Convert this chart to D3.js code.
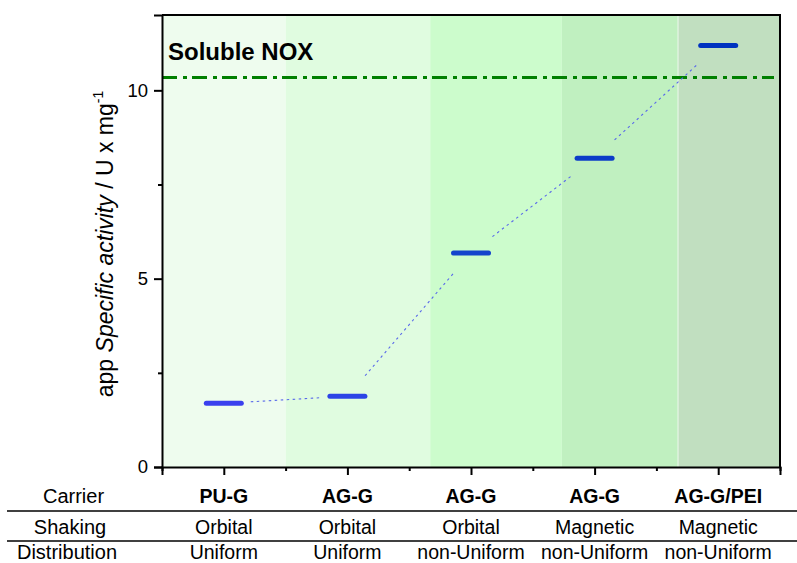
<!DOCTYPE html>
<html>
<head>
<meta charset="utf-8">
<script src="https://cdn.jsdelivr.net/npm/d3@7"></script>
<style>
  body { margin: 0; background: #fff; }
  svg text { font-family: Arial, "Liberation Sans", sans-serif; }
</style>
</head>
<body>
<div id="chart"></div>
<script>
// data
var carriers = ["PU-G", "AG-G", "AG-G", "AG-G", "AG-G/PEI"];
var shaking = ["Orbital", "Orbital", "Orbital", "Magnetic", "Magnetic"];
var distribution = ["Uniform", "Uniform", "non-Uniform", "non-Uniform", "non-Uniform"];
var rowNames = ["Carrier", "Shaking", "Distribution"];
var xPos = [1, 3, 5, 7, 9];
var activity = [1.69, 1.88, 5.68, 8.2, 11.19];
var solubleNOX = 10.34;
var bandEdges = [0, 2, 4.34, 6.47, 8.35, 10];
var yTicks = [0, 5, 10];
var yMinor = [2.5, 7.5];
var xMinor = [0, 2, 4, 6, 8, 10];

var bandColors = ["#eefcee", "#e0fce0", "#ccfccc", "#c0f0c0", "#c1dfc0"];
var barColors = ["#3a40ee", "#2c44e6", "#1444cc", "#0c3cc8", "#0032c0"];

var W = 797, H = 563;
var margin = {top: 15, right: 17, bottom: 96, left: 162},
    width = W - margin.left - margin.right,
    height = H - margin.top - margin.bottom;

var svg = d3.select("#chart").append("svg")
    .attr("width", W)
    .attr("height", H);

var g = svg.append("g")
    .attr("transform", "translate(" + margin.left + "," + margin.top + ")");

var x = d3.scaleLinear().domain([0, 10]).range([0, width]);
var y = d3.scaleLinear().domain([0, 12]).range([height, 0]);

// background bands
g.selectAll("rect.band")
  .data(d3.range(bandColors.length))
  .enter().append("rect")
    .attr("class", "band")
    .attr("x", function(i){ return x(bandEdges[i]); })
    .attr("width", function(i){ return x(bandEdges[i+1]) - x(bandEdges[i]); })
    .attr("y", 0)
    .attr("height", height)
    .attr("fill", function(i){ return bandColors[i]; });

// thin light separator between the last two bands
g.append("line")
    .attr("x1", x(bandEdges[4])).attr("x2", x(bandEdges[4]))
    .attr("y1", 0).attr("y2", height)
    .attr("stroke", "#eef8ee").attr("stroke-width", 1);

// soluble NOX reference
g.append("line")
    .attr("x1", 0).attr("x2", width - 6)
    .attr("y1", y(solubleNOX)).attr("y2", y(solubleNOX))
    .attr("stroke", "#008000")
    .attr("stroke-width", 3)
    .attr("stroke-dasharray", "15,6,4,5");

g.append("text")
    .attr("x", 6).attr("y", 45)
    .attr("font-size", 24).attr("font-weight", "bold")
    .text("Soluble NOX");

// connectors between points, cut back round each symbol
var pts = xPos.map(function(v, i){ return [x(v), y(activity[i])]; });
var gap = 27;
for (var i = 0; i < pts.length - 1; i++) {
  var a = pts[i], b = pts[i+1];
  var dx = b[0] - a[0], dy = b[1] - a[1], len = Math.sqrt(dx*dx + dy*dy);
  var ux = dx/len, uy = dy/len;
  g.append("line")
      .attr("x1", a[0] + ux*gap).attr("y1", a[1] + uy*gap)
      .attr("x2", b[0] - ux*gap).attr("y2", b[1] - uy*gap)
      .attr("stroke", "#5868ea")
      .attr("stroke-width", 1.1)
      .attr("stroke-dasharray", "2.5,3.5");
}

// horizontal bar symbols
g.selectAll("line.bar")
  .data(xPos)
  .enter().append("line")
    .attr("class", "bar")
    .attr("x1", function(d){ return x(d) - 17.5; })
    .attr("x2", function(d){ return x(d) + 17.5; })
    .attr("y1", function(d, i){ return y(activity[i]); })
    .attr("y2", function(d, i){ return y(activity[i]); })
    .attr("stroke", function(d, i){ return barColors[i]; })
    .attr("stroke-width", 5)
    .attr("stroke-linecap", "round");

// frame top + right
g.append("path")
    .attr("d", "M0,0H" + width + "V" + height)
    .attr("fill", "none").attr("stroke", "#000").attr("stroke-width", 2);

// axes
var yAxis = g.append("g")
    .call(d3.axisLeft(y).tickValues(yTicks).tickSize(8).tickPadding(6).tickFormat(d3.format("d")));
g.append("g")
    .call(d3.axisLeft(y).tickValues(yMinor).tickSize(4).tickFormat(""))
    .select(".domain").remove();

var xAxis = g.append("g")
    .attr("transform", "translate(0," + height + ")")
    .call(d3.axisBottom(x).tickValues(xPos).tickSize(8).tickFormat(""));
g.append("g")
    .attr("transform", "translate(0," + height + ")")
    .call(d3.axisBottom(x).tickValues(xMinor).tickSize(4).tickFormat(""))
    .select(".domain").remove();

g.selectAll(".domain").attr("stroke-width", 2);
g.selectAll(".tick line").attr("stroke-width", 2);
yAxis.selectAll("text").attr("font-size", 18.5).attr("font-family", "Arial, 'Liberation Sans', sans-serif");

// y label
var yl = svg.append("text")
    .attr("transform", "translate(113,244) rotate(-90)")
    .attr("text-anchor", "middle")
    .attr("font-size", 23);
yl.append("tspan").text("app ");
yl.append("tspan").attr("font-style", "italic").text("Specific activity");
yl.append("tspan").text(" / U x mg");
yl.append("tspan").attr("font-size", 14).attr("dy", -10).text("-1");

// table under the axis
var rows = [carriers, shaking, distribution];
var rowY = [503, 534, 559];
var rowNameX = [73.5, 70, 67];
rows.forEach(function(r, ri){
  svg.append("text")
      .attr("x", rowNameX[ri]).attr("y", rowY[ri])
      .attr("text-anchor", "middle")
      .attr("font-size", 20)
      .text(rowNames[ri]);
  svg.selectAll(null)
    .data(r)
    .enter().append("text")
      .attr("x", function(d, i){ return margin.left + x(xPos[i]); })
      .attr("y", rowY[ri])
      .attr("text-anchor", "middle")
      .attr("font-size", 19.5)
      .attr("font-weight", ri === 0 ? "bold" : "normal")
      .text(function(d){ return d; });
});

[511, 541].forEach(function(ly){
  svg.append("line")
      .attr("x1", 7).attr("x2", W)
      .attr("y1", ly).attr("y2", ly)
      .attr("stroke", "#000").attr("stroke-width", 1.5);
});
</script>
</body>
</html>
